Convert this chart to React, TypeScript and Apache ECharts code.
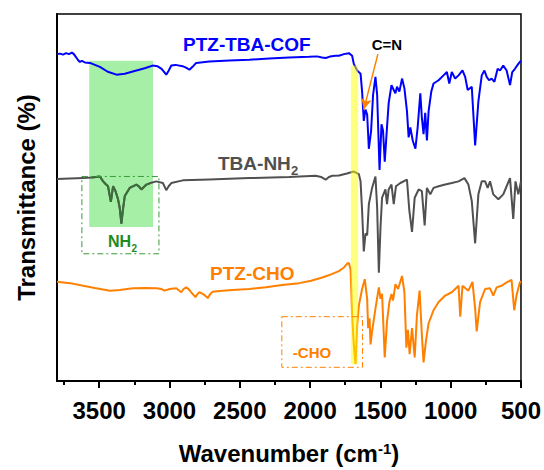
import React, { useEffect, useRef } from "react";
import * as echarts from "echarts";

// PTZ-TBA-COF
const wnCOF = [3800, 3779, 3757, 3736, 3715, 3694, 3680, 3665, 3651, 3637, 3623, 3602, 3566, 3495, 3439, 3377, 3318, 3235, 3176, 3120, 3084, 3056, 3023, 3006, 2987, 2957, 2907, 2879, 2858, 2836, 2810, 2716, 2574, 2432, 2291, 2149, 2007, 1951, 1915, 1889, 1859, 1818, 1795, 1759, 1724, 1701, 1689, 1665, 1641, 1630, 1618, 1606, 1594, 1582, 1566, 1552, 1535, 1523, 1506, 1492, 1481, 1469, 1453, 1441, 1421, 1405, 1393, 1382, 1365, 1346, 1329, 1311, 1299, 1287, 1270, 1251, 1235, 1216, 1205, 1193, 1181, 1169, 1157, 1138, 1122, 1086, 1051, 1027, 1010, 992, 968, 944, 916, 897, 879, 850, 826, 803, 779, 760, 744, 727, 709, 689, 666, 649, 626, 602, 578, 562, 543, 519, 500];
const tCOF = [334, 334.5, 333.5, 335, 334, 335.5, 334, 331, 328, 326, 327, 325.5, 325, 321, 316, 313, 314, 317.3, 319.5, 322.3, 321.5, 319, 313, 317, 322.3, 323, 321.7, 320, 318, 321, 325, 326.5, 327.5, 328.3, 329.5, 330.5, 331.2, 331.7, 330.5, 330, 331.5, 332.3, 332.3, 334, 335, 332.3, 324, 317.3, 314, 295.7, 265.7, 277.3, 272.3, 237.3, 255.7, 292.3, 310.7, 292.3, 215.7, 262.3, 255.7, 224, 259, 284, 302.3, 297.3, 294, 300.7, 295.7, 309, 299, 275.7, 249, 259, 245.7, 237.3, 259, 294, 269, 252.3, 274, 245.7, 275.7, 295.7, 304, 307.3, 312.3, 315.7, 304, 315.7, 309, 312.3, 317.3, 310.7, 297.3, 300.7, 240.7, 285.7, 312.3, 317.3, 310.7, 307.3, 309, 305.7, 319, 317.3, 322.3, 317.3, 302.3, 315.7, 319, 324, 327.3];

// TBA-NH2
const wnNH2 = [3800, 3708, 3614, 3552, 3495, 3472, 3453, 3437, 3417, 3401, 3384, 3366, 3354, 3342, 3332, 3318, 3283, 3235, 3219, 3200, 3164, 3141, 3094, 3047, 3023, 3006, 2987, 2905, 2716, 2432, 2149, 1960, 1922, 1889, 1866, 1842, 1795, 1738, 1689, 1653, 1641, 1630, 1618, 1606, 1594, 1582, 1559, 1535, 1523, 1511, 1499, 1488, 1464, 1453, 1441, 1421, 1405, 1389, 1358, 1311, 1294, 1275, 1256, 1228, 1205, 1185, 1169, 1145, 1122, 1086, 1039, 992, 944, 902, 874, 850, 826, 803, 779, 755, 737, 720, 697, 661, 626, 602, 578, 555, 539, 519, 500];
const tNH2 = [206.3, 207, 207.3, 208, 209, 204, 201, 199, 183, 199, 194, 185.7, 177, 160.7, 174, 189, 197.3, 200.7, 199, 195.7, 200.7, 202, 204, 202.3, 195, 199, 202.3, 205, 206, 207.3, 208.5, 209.7, 208.5, 205.7, 208.5, 209.7, 210, 212, 214, 211.3, 204, 174, 132.3, 150.7, 149, 180.7, 197.3, 209, 177.3, 110.7, 157.3, 187.3, 195.7, 180.7, 195.7, 200.7, 180.7, 199, 202.3, 205.7, 174, 152.3, 187.3, 195.7, 194, 159, 197.3, 190.7, 197.3, 199, 200.7, 202.3, 204, 207.3, 200.7, 184, 140.7, 190.7, 204, 204, 197.3, 204, 190.7, 185.7, 190.7, 199, 207.3, 165.7, 204, 190.7, 204];

// PTZ-CHO
const wnCHO = [3800, 3708, 3614, 3531, 3424, 3354, 3259, 3176, 3094, 3056, 3035, 2999, 2952, 2936, 2916, 2900, 2881, 2865, 2846, 2815, 2801, 2787, 2763, 2744, 2728, 2709, 2693, 2645, 2551, 2432, 2314, 2199, 2078, 1993, 1913, 1851, 1795, 1759, 1736, 1724, 1712, 1701, 1689, 1677, 1665, 1653, 1630, 1611, 1594, 1587, 1577, 1570, 1559, 1535, 1511, 1499, 1488, 1469, 1453, 1436, 1421, 1410, 1393, 1374, 1346, 1329, 1315, 1304, 1292, 1275, 1256, 1240, 1221, 1205, 1193, 1176, 1157, 1122, 1086, 1039, 992, 944, 932, 916, 874, 845, 826, 815, 791, 755, 720, 697, 673, 638, 602, 567, 548, 532, 508, 500];
const tCHO = [101.3, 100, 97.3, 95, 92.3, 93, 94.7, 95, 94.7, 94, 92.3, 94, 94.7, 93, 90.7, 94, 95.7, 94, 90.7, 85.7, 89, 90.7, 89, 87, 84.7, 89, 91.3, 92, 93, 94, 95.7, 98, 100, 102.5, 105.7, 109, 112.3, 116, 120, 120.5, 114, 67.3, 37.3, 17.3, 57.3, 77.3, 94, 104, 84, 54, 64, 37.3, 50.7, 74, 95.7, 84, 89, 24, 60.7, 80.7, 89, 82.3, 99, 94, 107.3, 90.7, 34, 52.3, 27.3, 54, 24, 67.3, 92.3, 47.3, 19, 40.7, 59, 72.3, 80.7, 87.3, 90.7, 97.3, 65.7, 97.3, 92.3, 101.3, 74, 50.7, 80.7, 94, 94.7, 87.3, 95.7, 97.3, 100.7, 103.3, 72.3, 87.3, 100.7, 102];

const xMajorTicks = [3500, 3000, 2500, 2000, 1500, 1000, 500];
const xMinorTicks = [3750, 3250, 2750, 2250, 1750, 1250, 750];

// annotation regions: [wavenumber from, wavenumber to, value from, value to]
const nh2Band = [3571, 3117, 157.3, 327.3];
const nh2Box = [3623, 3075, 130, 209];
const choBand = [1710, 1658, 17, 322.3];
const choBox = [2201, 1627, 14, 65.7];
const arrowFrom = [1518, 334];
const arrowTo = [1618, 277.3];

const FONT = "'Liberation Sans', Arial, Helvetica, sans-serif";
const BLUE = "#0000FF";
const GRAY = "#505050";
const ORANGE = "#FF8000";
const LABEL_GREEN = "#1E8C1E";

export default function App() {
  const ref = useRef<HTMLDivElement>(null);
  useEffect(() => {
    const chart = echarts.init(ref.current!, null, { renderer: "svg" });
    const pairs = (xs: number[], ys: number[]) => xs.map((x, i) => [x, ys[i]]);
    const nh2Data = pairs(wnNH2, tNH2);
    const nh2Green = nh2Data.filter(([x]) => x <= nh2Band[0] && x >= nh2Band[1]);
    const boldText = (size: number, color: string) => ({
      fontFamily: FONT,
      fontWeight: "bold",
      fontSize: size,
      fill: color,
    });
    const rectSeries = (region: number[], style: any, z: number) => ({
      type: "custom",
      z,
      silent: true,
      xAxisIndex: 0,
      yAxisIndex: 0,
      encode: { x: [0, 1], y: [2, 3] },
      data: [region],
      renderItem: (params: any, api: any) => {
        const p0 = api.coord([api.value(0), api.value(2)]);
        const p1 = api.coord([api.value(1), api.value(3)]);
        return {
          type: "rect",
          shape: {
            x: Math.min(p0[0], p1[0]),
            y: Math.min(p0[1], p1[1]),
            width: Math.abs(p1[0] - p0[0]),
            height: Math.abs(p1[1] - p0[1]),
          },
          style,
        };
      },
    });

    chart.setOption({
      animation: false,
      backgroundColor: "#fff",
      grid: {
        left: 57,
        right: 21,
        top: 14,
        bottom: 81,
        show: true,
        borderColor: "#000",
        borderWidth: 1.5,
      },
      xAxis: [
        {
          type: "value",
          min: 500,
          max: 3800,
          interval: 500,
          inverse: true,
          position: "bottom",
          axisLine: { show: true, lineStyle: { color: "#000", width: 2 } },
          axisTick: { show: true, customValues: xMajorTicks, length: 7, lineStyle: { color: "#000", width: 2 } },
          axisLabel: {
            customValues: xMajorTicks,
            formatter: (v: number) => String(v),
            color: "#000",
            fontFamily: FONT,
            fontWeight: "bold",
            fontSize: 24,
            margin: 17,
          },
          splitLine: { show: false },
          name: "{b|Wavenumber (cm}{s|-1}{b|)}",
          nameLocation: "middle",
          nameGap: 60,
          nameTextStyle: {
            rich: {
              b: { fontFamily: FONT, fontWeight: "bold", fontSize: 24, color: "#000" },
              s: { fontFamily: FONT, fontWeight: "bold", fontSize: 15, color: "#000", verticalAlign: "top" },
            },
          },
        },
        {
          type: "value",
          min: 500,
          max: 3800,
          interval: 500,
          inverse: true,
          position: "bottom",
          axisLine: { show: false },
          axisTick: { show: true, customValues: xMinorTicks, length: 4, lineStyle: { color: "#000", width: 2 } },
          axisLabel: { show: false },
          splitLine: { show: false },
        },
      ],
      yAxis: {
        type: "value",
        min: 0,
        max: 375,
        axisLine: { show: true, lineStyle: { color: "#000", width: 2 } },
        axisTick: { show: false },
        axisLabel: { show: false },
        splitLine: { show: false },
        name: "Transmittance (%)",
        nameLocation: "middle",
        nameGap: 19,
        nameTextStyle: { fontFamily: FONT, fontWeight: "bold", fontSize: 24, color: "#000" },
      },
      series: [
        rectSeries(nh2Band, { fill: "#A6EFA6" }, 1),
        {
          name: "PTZ-TBA-COF",
          type: "line",
          data: pairs(wnCOF, tCOF),
          showSymbol: false,
          z: 3,
          lineStyle: { color: BLUE, width: 2 },
        },
        {
          name: "TBA-NH2",
          type: "line",
          data: nh2Data,
          showSymbol: false,
          z: 3,
          lineStyle: { color: GRAY, width: 2 },
        },
        {
          type: "line",
          data: nh2Green,
          showSymbol: false,
          z: 4,
          lineStyle: { color: "#3C6E3C", width: 2 },
        },
        {
          name: "PTZ-CHO",
          type: "line",
          data: pairs(wnCHO, tCHO),
          showSymbol: false,
          z: 3,
          lineStyle: { color: ORANGE, width: 2 },
        },
        rectSeries(choBand, { fill: "rgba(255,255,0,0.5)" }, 6),
        rectSeries(nh2Box, { fill: "none", stroke: "#3A9A3A", lineWidth: 1, lineDash: [6, 3, 2, 3] }, 7),
        rectSeries(choBox, { fill: "none", stroke: ORANGE, lineWidth: 1, lineDash: [6, 3, 2, 3] }, 7),
        {
          type: "line",
          data: [],
          z: 8,
          markLine: {
            silent: true,
            symbol: ["none", "arrow"],
            symbolSize: [8, 11],
            label: { show: false },
            lineStyle: { color: ORANGE, width: 1.5, type: "solid" },
            data: [[{ coord: arrowFrom }, { coord: arrowTo }]],
          },
        },
      ],
      graphic: [
        { type: "text", x: 183, y: 44, style: { ...boldText(19, BLUE), text: "PTZ-TBA-COF", align: "left", verticalAlign: "middle" } },
        { type: "text", x: 218, y: 163.5, style: { ...boldText(19, GRAY), text: "TBA-NH", align: "left", verticalAlign: "middle" } },
        { type: "text", x: 291, y: 170.5, style: { ...boldText(13, GRAY), text: "2", align: "left", verticalAlign: "middle" } },
        { type: "text", x: 210, y: 273, style: { ...boldText(19, ORANGE), text: "PTZ-CHO", align: "left", verticalAlign: "middle" } },
        { type: "text", x: 387, y: 44, style: { ...boldText(15, "#000"), text: "C=N", align: "center", verticalAlign: "middle" } },
        { type: "text", x: 108, y: 241.7, style: { ...boldText(16, LABEL_GREEN), text: "NH", align: "left", verticalAlign: "middle" } },
        { type: "text", x: 131.5, y: 248, style: { ...boldText(10, LABEL_GREEN), text: "2", align: "left", verticalAlign: "middle" } },
        { type: "text", x: 312, y: 352, style: { ...boldText(15, ORANGE), text: "-CHO", align: "center", verticalAlign: "middle" } },
      ],
    });
    return () => chart.dispose();
  }, []);
  return <div ref={ref} style={{ position: "fixed", left: 0, top: 0, width: 544, height: 470 }} />;
}
